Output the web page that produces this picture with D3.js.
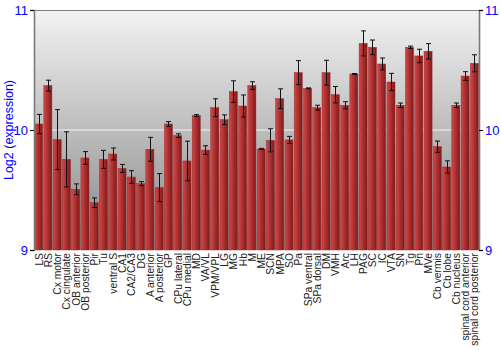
<!DOCTYPE html>
<html>
<head>
<meta charset="utf-8">
<script src="https://cdn.jsdelivr.net/npm/d3@7"></script>
<style>
  body { margin: 0; background: #fff; }
  svg { display: block; font-family: "Liberation Sans", Arial, sans-serif; }
</style>
</head>
<body>
<div id="chart"></div>
<script>
// --------------------------------
// data
// --------------------------------
var regions = ["LS", "RS", "Cx motor", "Cx cingulate", "OB anterior", "OB posterior", "Pir", "Tu",
  "ventral S", "CA1", "CA2/CA3", "DG", "A anterior", "A posterior", "GP", "CPu lateral", "CPu medial",
  "MD", "VA/VL", "VPM/VPL", "LG", "MG", "Hb", "M", "ME", "SCN", "MPA", "SO", "Pa", "SPa ventral",
  "SPa dorsal", "DM", "VMH", "Arc", "LH", "PAG", "SC", "IC", "VTA", "SN", "Tg", "Pn", "MVe",
  "Cb vermis", "Cb lobe", "Cb nucleus", "spinal cord anterior", "spinal cord posterior"];

var expression = [10.05, 10.37, 9.92, 9.755, 9.506, 9.767, 9.394, 9.755,
  9.80, 9.68, 9.608, 9.553, 9.839, 9.52, 10.05, 9.953, 9.742,
  10.12, 9.833, 10.186, 10.086, 10.32, 10.20, 10.37, 9.842, 9.914, 10.261, 9.917, 10.478, 10.347,
  10.186, 10.478, 10.294, 10.206, 10.467, 10.722, 10.689, 10.55, 10.40, 10.206, 10.689, 10.617, 10.656,
  9.861, 9.692, 10.206, 10.45, 10.556];

var errors = [0.08, 0.045, 0.25, 0.23, 0.045, 0.053, 0.04, 0.075,
  0.05, 0.033, 0.053, 0.017, 0.10, 0.117, 0.02, 0.015, 0.165,
  0.008, 0.036, 0.074, 0.04, 0.09, 0.092, 0.032, 0.005, 0.096, 0.082, 0.03, 0.10, 0.004,
  0.02, 0.103, 0.068, 0.03, 0.004, 0.104, 0.061, 0.05, 0.072, 0.019, 0.01, 0.056, 0.064,
  0.047, 0.051, 0.019, 0.036, 0.071];

var yTicks = [9, 10, 11];

// --------------------------------
// layout
// --------------------------------
var W = 500, H = 350;
var m = {left: 34, right: 21, top: 10, bottom: 100};

var svg = d3.select("#chart").append("svg")
  .attr("width", W).attr("height", H);

var x = d3.scaleBand().domain(regions)
  .range([m.left, W - m.right]).paddingInner(0.13).paddingOuter(0.06);
var y = d3.scaleLinear().domain([9, 11]).range([H - m.bottom, m.top]);

var defs = svg.append("defs");
var bg = defs.append("linearGradient").attr("id", "bg")
  .attr("x1", "0%").attr("y1", "0%").attr("x2", "0%").attr("y2", "100%");
bg.append("stop").attr("offset", "0").attr("stop-color", "#f3f3f3");
bg.append("stop").attr("offset", "1").attr("stop-color", "#868686");

var barGrad = defs.append("linearGradient").attr("id", "barGrad")
  .attr("x1", "0%").attr("y1", "0%").attr("x2", "100%").attr("y2", "0%");
barGrad.append("stop").attr("offset", "0").attr("stop-color", "#cf4b4b");
barGrad.append("stop").attr("offset", "0.35").attr("stop-color", "#b83535");
barGrad.append("stop").attr("offset", "1").attr("stop-color", "#7e1a1a");

// plot background
svg.append("rect")
  .attr("x", m.left).attr("y", m.top)
  .attr("width", W - m.left - m.right).attr("height", H - m.top - m.bottom)
  .attr("fill", "url(#bg)");

// grid line at 10
svg.append("line")
  .attr("x1", m.left).attr("x2", W - m.right)
  .attr("y1", y(10)).attr("y2", y(10))
  .attr("stroke", "#f4f4f4").attr("stroke-width", 1.2);

// bars
svg.append("g").selectAll("rect").data(regions).join("rect")
  .attr("x", function(d) { return x(d); })
  .attr("y", function(d, i) { return y(expression[i]); })
  .attr("width", x.bandwidth())
  .attr("height", function(d, i) { return y(9) - y(expression[i]); })
  .attr("fill", "url(#barGrad)")
  .attr("stroke", "#9a2a2a").attr("stroke-width", 0.5);

// error bars
var eg = svg.append("g").attr("stroke", "#111").attr("stroke-width", 1);
regions.forEach(function(d, i) {
  var cx = Math.round(x(d) + x.bandwidth() / 2) + 0.5;
  var y0 = y(expression[i] - errors[i]), y1 = y(expression[i] + errors[i]);
  eg.append("line").attr("x1", cx).attr("x2", cx).attr("y1", y0).attr("y2", y1);
  eg.append("line").attr("x1", cx - 2.5).attr("x2", cx + 2.5).attr("y1", y0).attr("y2", y0);
  eg.append("line").attr("x1", cx - 2.5).attr("x2", cx + 2.5).attr("y1", y1).attr("y2", y1);
});

// frame: top border + side axes
svg.append("line")
  .attr("x1", m.left).attr("x2", W - m.right)
  .attr("y1", m.top + 0.5).attr("y2", m.top + 0.5)
  .attr("stroke", "#808080").attr("stroke-width", 1);

var leftAxis = svg.append("g")
  .attr("transform", "translate(" + m.left + ",0)")
  .call(d3.axisLeft(y).tickValues(yTicks).tickFormat(d3.format("d")).tickSize(4).tickPadding(2));
var rightAxis = svg.append("g")
  .attr("transform", "translate(" + (W - m.right) + ",0)")
  .call(d3.axisRight(y).tickValues(yTicks).tickFormat(d3.format("d")).tickSize(4).tickPadding(2));

[leftAxis, rightAxis].forEach(function(a) {
  a.select(".domain").attr("stroke", "#7a7a7a").attr("stroke-width", 1.6);
  a.selectAll(".tick line").attr("stroke", "#000");
  a.selectAll(".tick text").attr("fill", "#0000ff")
    .style("font-size", "13px").style("font-family", "Liberation Sans, Arial, sans-serif");
});

// x labels, rotated
svg.append("g").selectAll("text").data(regions).join("text")
  .attr("transform", function(d) {
    return "translate(" + (x(d) + x.bandwidth() / 2 + 4) + "," + (H - m.bottom + 3) + ") rotate(-90)";
  })
  .attr("text-anchor", "end")
  .style("font-size", "10.3px")
  .attr("fill", "#222")
  .text(function(d) { return d; });

// y title
svg.append("text")
  .attr("transform", "translate(13," + y(10) + ") rotate(-90)")
  .attr("text-anchor", "middle")
  .attr("fill", "#0000ff")
  .style("font-size", "12.5px")
  .text("Log2 (expression)");
</script>
</body>
</html>
